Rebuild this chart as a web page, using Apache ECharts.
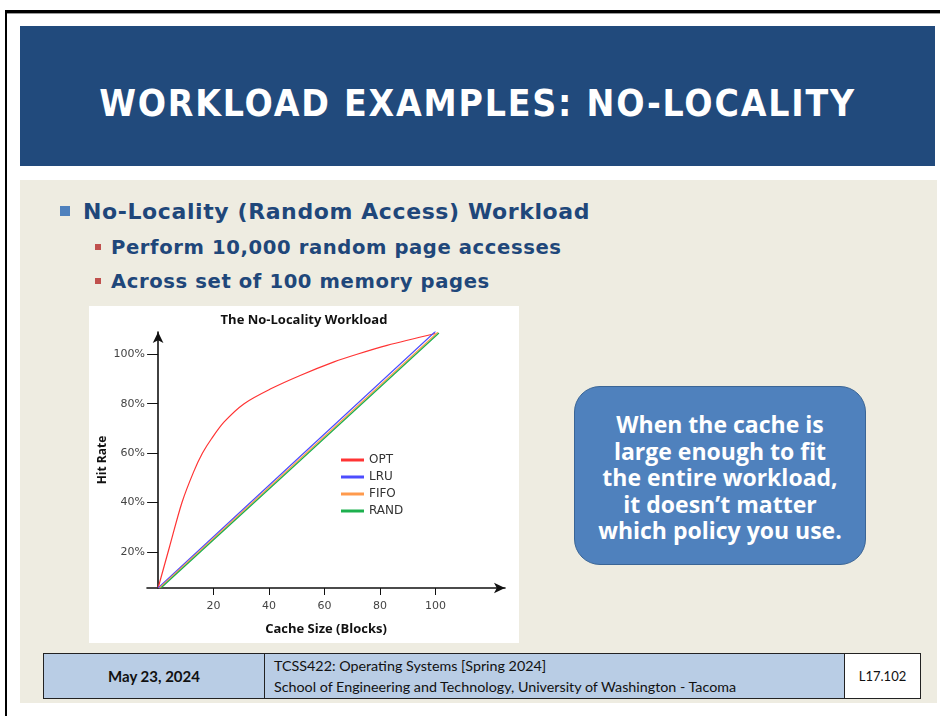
<!DOCTYPE html>
<html>
  <head>
    <meta http-equiv="Content-Type" content="text/html; charset=utf-8" />
    <title>Workload Examples: No-Locality</title>
    <script src="https://cdn.jsdelivr.net/npm/echarts@6/dist/echarts.min.js"></script>
    <style>
      body { margin: 0; width: 940px; height: 716px; position: relative; overflow: hidden; background: #fff; }
      .abs { position: absolute; }
      .frame-top { left: 5px; top: 10px; width: 935px; height: 3px; background: #000; }
      .frame-top2 { left: 7px; top: 13px; width: 933px; height: 1px; background: #999; }
      .frame-left { left: 5px; top: 10px; width: 2px; height: 706px; background: #000; }
      .header { left: 20px; top: 26px; width: 915px; height: 140px; background: #214a7c; }
      .header-text {
        left: 20px; top: 26px; width: 915px; height: 140px; line-height: 156px; text-align: center;
        color: #fff; font-family: "DejaVu Sans Condensed", sans-serif; font-weight: bold;
        font-size: 37px; letter-spacing: 1.8px;
      }
      .content { left: 20px; top: 180px; width: 917px; height: 523px; background: #eeece1; }
      .bullet { font-family: "DejaVu Sans", sans-serif; font-weight: bold; color: #1f477a; white-space: nowrap; }
      .sq1 { left: 60px; top: 206px; width: 10px; height: 10px; background: #4f81bd; }
      .sq2 { width: 6px; height: 6px; background: #c0504d; left: 95px; }
      .callout {
        left: 574px; top: 386px; width: 292px; height: 179px; background: #4f81bd;
        border: 1.5px solid #3a6596; border-radius: 26px; box-sizing: border-box;
        color: #fff; font-family: "Open Sans", sans-serif; font-weight: bold; font-size: 23px;
        line-height: 26.5px; text-align: center; padding-top: 24px;
      }
      #chart { left: 89px; top: 306px; width: 430px; height: 337px; background: #fff; }
      table.footer {
        position: absolute; left: 43px; top: 653px; border-collapse: collapse;
        font-family: Lato, sans-serif; color: #111;
      }
      table.footer td { border: 1px solid #222; height: 44px; padding: 0; }
    </style>
  </head>

  <body>
    <div class="abs frame-top"></div>
    <div class="abs frame-top2"></div>
    <div class="abs frame-left"></div>
    <div class="abs header"></div>
    <div class="abs header-text">WORKLOAD EXAMPLES: NO-LOCALITY</div>
    <div class="abs content"></div>

    <div class="abs sq1"></div>
    <div class="abs bullet" style="left: 83px; top: 199px; font-size: 22px; letter-spacing: 0.6px">No-Locality (Random Access) Workload</div>
    <div class="abs sq2" style="top: 244px"></div>
    <div class="abs bullet" style="left: 111px; top: 236px; font-size: 19.6px; letter-spacing: 0.6px">Perform 10,000 random page accesses</div>
    <div class="abs sq2" style="top: 278px"></div>
    <div class="abs bullet" style="left: 111px; top: 270px; font-size: 19.6px; letter-spacing: 0.6px">Across set of 100 memory pages</div>

    <div id="chart" class="abs"></div>

    <div class="abs callout">
      When the cache is<br />large enough to fit<br />the entire workload,<br />it doesn’t matter<br />which policy you use.
    </div>

    <table class="footer">
      <tr>
        <td style="width: 220px; text-align: center; font-weight: bold; font-size: 15px">May 23, 2024</td>
        <td style="width: 570px; padding-left: 9px; font-size: 14.3px; line-height: 21px">
          TCSS422: Operating Systems [Spring 2024]<br />School of Engineering and Technology, University of Washington - Tacoma
        </td>
        <td style="width: 75px; text-align: center; font-size: 13px; background: #fff">L17.102</td>
      </tr>
    </table>

    <script type="text/javascript">
      "use strict"

      // footer cell colour
      document.querySelectorAll("table.footer td")[0].style.background = "#b9cde5"
      document.querySelectorAll("table.footer td")[1].style.background = "#b9cde5"

      //============== data =====================================
      const seriesNames = ["OPT", "LRU", "FIFO", "RAND"]
      const tickValues = [20, 40, 60, 80, 100]

      // OPT curve: cache size / hit rate (%)
      const optX = [0, 4.1, 8.6, 12.8, 16, 19.3, 23.8, 31, 40.6, 51.4, 63.4, 71.7, 82.5, 99.9]
      const optY = [5.4, 22, 40, 52.4, 60, 65.9, 72.6, 80, 86, 91.5, 96.9, 100, 103.6, 108.4]

      // the other three are nearly straight lines
      const lruX = [0, 50, 100]
      const lruY = [5.4, 57.4, 109.3]
      const fifoX = [0.5, 50.5, 100.8]
      const fifoY = [5.4, 57, 108.9]
      const randX = [1, 51, 101.2]
      const randY = [5.4, 56.8, 108.6]

      const colors = ["#ff3434", "#4d4dff", "#ff9a4d", "#1db04e"]

      function pairs(xs, ys) {
        return xs.map(function (x, i) {
          return [x, ys[i]]
        })
      }

      const myChart = echarts.init(document.getElementById("chart"))
      const axisFont = "DejaVu Sans"

      let option = {
        animation: false,
        backgroundColor: "#fff",
        title: {
          text: "The No-Locality Workload",
          left: "center",
          top: 3,
          textStyle: { fontFamily: "Open Sans", fontWeight: "bold", fontSize: 13, color: "#111" }
        },
        legend: {
          orient: "vertical",
          left: 252,
          top: 148,
          padding: 0,
          itemWidth: 23,
          itemHeight: 3,
          itemGap: 5,
          icon: "rect",
          data: seriesNames,
          textStyle: { fontFamily: axisFont, fontSize: 12, color: "#333" }
        },
        grid: { left: 58, right: 14, top: 26, bottom: 55, containLabel: false, outerBoundsMode: "none" },
        xAxis: {
          type: "value",
          min: -4,
          max: 125,
          name: "Cache Size (Blocks)",
          nameLocation: "middle",
          nameGap: 35,
          nameMoveOverlap: false,
          nameTextStyle: { fontFamily: "Open Sans", fontWeight: "bold", fontSize: 13, color: "#111" },
          axisLine: {
            onZero: false,
            symbol: ["none", "arrow"],
            symbolSize: [8, 11],
            lineStyle: { color: "#111", width: 1.6 }
          },
          axisTick: { customValues: tickValues, length: 7, lineStyle: { color: "#111" } },
          axisLabel: { customValues: tickValues, margin: 13, fontFamily: axisFont, fontSize: 11, color: "#444" },
          splitLine: { show: false }
        },
        yAxis: {
          type: "value",
          min: 5.4,
          max: 109,
          name: "Hit Rate",
          nameLocation: "middle",
          nameRotate: 90,
          nameGap: 38,
          nameMoveOverlap: false,
          nameTextStyle: { fontFamily: "Open Sans", fontWeight: "bold", fontSize: 12, color: "#111" },
          axisLine: {
            onZero: true,
            symbol: ["none", "arrow"],
            symbolSize: [8, 11],
            lineStyle: { color: "#111", width: 1.6 }
          },
          axisTick: { customValues: tickValues, length: 11, lineStyle: { color: "#111" } },
          axisLabel: {
            customValues: tickValues,
            margin: 2,
            formatter: "{value}%",
            fontFamily: axisFont,
            fontSize: 11,
            color: "#444"
          },
          splitLine: { show: false }
        },
        series: [
          { name: "OPT", data: pairs(optX, optY), smooth: 0.3 },
          { name: "LRU", data: pairs(lruX, lruY) },
          { name: "FIFO", data: pairs(fifoX, fifoY) },
          { name: "RAND", data: pairs(randX, randY) }
        ].map(function (s, i) {
          s.type = "line"
          s.showSymbol = false
          s.color = colors[i]
          s.lineStyle = { width: 1.2, color: colors[i] }
          return s
        })
      }
      myChart.setOption(option, true)
    </script>
  </body>
</html>
